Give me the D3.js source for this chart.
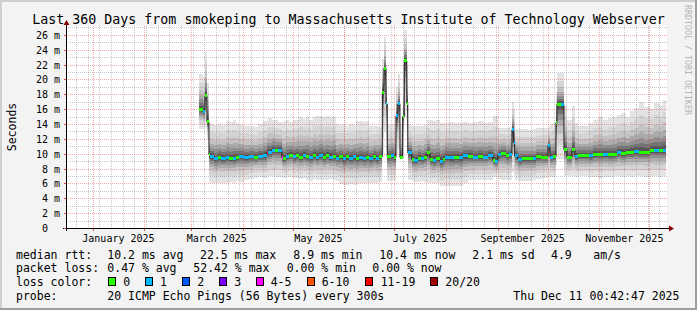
<!DOCTYPE html>
<meta charset="utf-8">
<style>
body { margin: 0; background: #fff; }
svg text { font-family: "DejaVu Sans Mono", monospace; fill: #000; }
</style>
<body>
<script src="https://d3js.org/d3.v7.min.js"></script>
<script>

// ---- data ----
// step start, in days since 2025-01-01
var days = [
  63.8, 66.2, 67.4, 68.6, 69.8, 70.5, 73, 75, 77, 80,
  82, 84, 86, 88, 91, 94, 97, 99, 102, 104.5,
  105.3, 107.5, 109.5, 111, 113.5, 114.3, 116, 118, 120, 122,
  124, 126, 128, 130, 132, 134, 136, 138, 140, 142,
  144, 146, 148, 150, 152, 154, 156, 158, 160, 162,
  164, 166, 168, 170, 172, 173.8, 174.8, 176, 176.8, 179,
  181, 182, 183.1, 184.4, 186, 187, 188.5, 189.1, 191.5, 193,
  195, 197, 199, 200.6, 202.4, 204, 206, 208.4, 210, 211.5,
  214, 217, 220, 222, 225, 228, 231, 234, 237.2, 240.2,
  241.5, 243.2, 245, 248, 250, 251.6, 252.6, 253.2, 255.2, 257.6,
  261, 264, 266, 269, 273.2, 274.4, 276.5, 278, 278.6, 281,
  282.8, 284.6, 287.6, 289.4, 291.2, 295, 298, 300.2, 303, 306,
  309, 312, 314.6, 317, 320, 322.4, 325, 328, 331, 334.4,
  337, 340, 342
];
// median rtt (ms)
var median = [
  16.0, 15.7, 17.8, 14.3, 9.9, 9.6, 9.3, 9.5, 9.4, 9.5,
  9.4, 9.4, 9.5, 9.6, 9.5, 9.6, 9.5, 9.6, 9.7, 10.2,
  10.2, 10.5, 10.4, 10.5, 9.5, 9.3, 9.6, 9.8, 9.6, 9.7,
  9.5, 9.7, 9.6, 9.5, 9.7, 9.5, 9.75, 9.5, 9.7, 9.5,
  9.6, 9.4, 9.6, 9.3, 9.6, 9.4, 9.6, 9.3, 9.5, 9.3,
  9.5, 9.3, 9.6, 9.4, 9.6, 18.3, 21.5, 16.7, 9.6, 9.7,
  9.5, 15.1, 16.7, 9.5, 15.0, 22.5, 16.8, 10.1, 9.2, 9.1,
  9.4, 9.3, 9.5, 10.1, 9.2, 9.1, 9.3, 9.0, 9.2, 9.55,
  9.45, 9.5, 9.45, 9.7, 9.65, 9.55, 9.6, 9.55, 9.75, 9.05,
  8.9, 9.9, 10.0, 9.7, 9.9, 13.2, 11.5, 9.7, 9.2, 9.3,
  9.3, 9.3, 9.6, 9.55, 11.1, 9.55, 9.6, 14.2, 16.65, 16.65,
  10.55, 9.5, 10.55, 9.6, 9.75, 9.75, 9.7, 9.9, 9.85, 9.9,
  9.85, 9.9, 10.1, 10.05, 10.15, 10.2, 10.25, 10.2, 10.2, 10.45,
  10.4, 10.5, 10.45
];
// lost pings out of 20
var loss = [
  0, 1, 0, 0, 0, 1, 1, 0, 1, 1,
  0, 1, 0, 1, 1, 1, 0, 1, 1, 11,
  1, 1, 0, 1, 4, 0, 1, 0, 1, 0,
  0, 1, 0, 1, 0, 1, 1, 0, 0, 1,
  0, 1, 0, 1, 0, 1, 1, 0, 1, 1,
  0, 1, 0, 1, 0, 0, 0, 1, 0, 1,
  0, 1, 1, 0, 0, 0, 0, 1, 0, 1,
  0, 1, 0, 0, 0, 1, 0, 1, 0, 1,
  1, 0, 1, 1, 0, 1, 0, 1, 1, 0,
  1, 1, 0, 0, 1, 1, 1, 1, 1, 0,
  0, 1, 0, 0, 1, 1, 0, 0, 0, 1,
  0, 0, 0, 1, 0, 0, 1, 0, 0, 1,
  0, 0, 1, 0, 0, 0, 1, 0, 0, 0,
  1, 0, 1
];
// smoke: fastest and slowest ping (ms)
var smokeMin = [
  13.3, 13.3, 13.6, 12.0, 6.2, 6.1, 6.0, 6.1, 6.0, 6.1,
  6.2, 6.1, 6.3, 6.2, 6.4, 6.6, 6.8, 6.9, 6.8, 6.9,
  7.0, 7.0, 6.9, 6.9, 6.8, 6.8, 6.9, 6.9, 6.7, 6.8,
  6.6, 6.8, 6.5, 6.3, 6.6, 6.5, 6.5, 6.4, 6.5, 6.6,
  6.4, 6.3, 5.9, 5.8, 5.8, 5.9, 5.8, 5.9, 6.0, 6.1,
  6.0, 6.1, 6.0, 6.1, 6.2, 10.0, 13.0, 10.5, 6.3, 6.3,
  6.4, 9.8, 10.5, 9.4, 10.0, 15.0, 10.5, 6.5, 6.3, 6.2,
  6.2, 6.3, 6.2, 6.1, 6.0, 6.0, 6.1, 5.6, 5.6, 5.7,
  5.6, 5.7, 5.7, 6.0, 6.4, 6.5, 6.5, 6.5, 6.5, 6.9,
  6.9, 6.6, 6.5, 6.5, 6.5, 7.5, 7.0, 6.4, 6.3, 6.3,
  6.3, 6.4, 6.6, 6.8, 6.9, 6.9, 6.9, 8.5, 9.3, 9.3,
  7.0, 7.0, 7.0, 6.9, 7.0, 7.0, 6.9, 6.9, 6.8, 6.9,
  6.9, 7.0, 7.0, 6.9, 7.0, 6.9, 7.0, 7.0, 6.9, 7.0,
  7.0, 6.9, 7.0
];
var smokeMax = [
  20.7, 20.3, 23.9, 19.5, 14.2, 14.0, 13.9, 14.0, 13.9, 14.4,
  14.3, 14.5, 14.2, 13.9, 13.8, 13.7, 13.6, 14.0, 14.4, 14.6,
  14.8, 14.6, 14.5, 14.3, 14.2, 14.4, 14.6, 14.3, 14.5, 14.6,
  14.9, 14.7, 15.0, 14.6, 15.0, 15.1, 15.1, 15.0, 15.1, 14.9,
  15.1, 14.0, 13.9, 14.0, 13.8, 14.0, 13.9, 14.4, 14.4, 14.3,
  14.4, 13.8, 13.7, 13.7, 13.6, 22.7, 25.7, 22.0, 13.9, 14.0,
  13.9, 19.0, 20.7, 14.0, 22.0, 26.6, 22.0, 13.9, 13.7, 13.8,
  13.7, 13.8, 13.9, 14.6, 14.6, 14.4, 14.6, 14.2, 14.2, 14.2,
  14.3, 14.2, 14.1, 14.3, 14.2, 14.3, 14.4, 14.2, 14.3, 15.1,
  15.1, 13.5, 13.5, 13.4, 13.6, 16.9, 16.0, 13.3, 13.3, 13.3,
  13.2, 13.3, 13.4, 13.5, 13.6, 14.0, 14.2, 18.2, 20.9, 20.9,
  16.4, 14.5, 16.4, 14.2, 13.7, 13.8, 14.2, 14.6, 14.9, 14.5,
  14.8, 14.9, 15.2, 15.5, 15.0, 15.7, 16.2, 16.9, 16.3, 16.0,
  16.8, 16.5, 17.3
];

var yTicks = [0, 2, 4, 6, 8, 10, 12, 14, 16, 18, 20, 22, 24, 26];
var labelMonths = ["2025-01", "2025-03", "2025-05", "2025-07", "2025-09", "2025-11"];

var title = "Last 360 Days from smokeping to Massachusetts Institute of Technology Webserver";
var rttStats = ["10.2 ms avg", "22.5 ms max", "8.9 ms min", "10.4 ms now", "2.1 ms sd", "4.9", "am/s"];
var lossStats = ["0.47 % avg", "52.42 % max", "0.00 % min", "0.00 % now"];
var lossNames = ["0", "1", "2", "3", "4-5", "6-10", "11-19", "20/20"];
var lossLimits = [0, 1, 2, 3, 5, 10, 19, 20];
var lossColors = ["#26ff00", "#00b8ff", "#0059ff", "#7e00ff", "#ff00ff", "#ff5500", "#ff0000", "#a10000"];
var probeText = "20 ICMP Echo Pings (56 Bytes) every 300s";
var stamp = "Thu Dec 11 00:42:47 2025";

// ---- layout ----
var W = 697, H = 310;
var plotL = 66, plotR = 666, plotT = 26, plotB = 228;

var endTime = new Date(2025, 11, 11, 0, 42, 47);
var startTime = new Date(endTime.getTime() - 360 * 864e5);
var jan1 = new Date(2025, 0, 1).getTime();
function dayDate(d) { return new Date(jan1 + d * 864e5); }

var x = d3.scaleTime().domain([startTime, endTime]).range([plotL, plotR]);
var y = d3.scaleLinear().domain([0, 27.2]).range([plotB, plotT]);

var rows = days.map(function(d, i) {
  return { t: dayDate(d), med: median[i], loss: loss[i], lo: smokeMin[i], hi: smokeMax[i] };
});
// closing point so the last step reaches "now"
var stepRows = rows.concat([Object.assign({}, rows[rows.length - 1], { t: endTime })]);

var svg = d3.select("body").append("svg")
    .attr("width", W)
    .attr("height", H);

// background + 3d border
svg.append("rect").attr("width", W).attr("height", H).attr("fill", "#f3f3f3");
svg.append("path").attr("d", "M0,1H697M1,0V310").attr("stroke", "#cfcfcf").attr("stroke-width", 2);
svg.append("path").attr("d", "M0,309H697M696,0V310").attr("stroke", "#9e9e9e").attr("stroke-width", 2);

svg.append("rect")
    .attr("x", plotL).attr("y", plotT)
    .attr("width", plotR - plotL + 1).attr("height", plotB - plotT)
    .attr("fill", "#fff");

// smoke, drawn as nested layers from the slowest/fastest pings in to the median
var shades = [
  [0, "#e3e3e3"], [0.25, "#d4d4d4"], [0.45, "#c3c3c3"], [0.6, "#ababab"],
  [0.72, "#919191"], [0.82, "#747474"], [0.9, "#575757"]
];
var smoke = svg.append("g").attr("shape-rendering", "crispEdges");
shades.forEach(function(s) {
  var f = s[0];
  var area = d3.area()
      .curve(d3.curveStepAfter)
      .x(function(d) { return x(d.t); })
      .y0(function(d) { return y(d.lo + (d.med - d.lo) * f); })
      .y1(function(d) { return y(d.hi - (d.hi - d.med) * f); });
  smoke.append("path")
      .datum(stepRows)
      .attr("fill", s[1])
      .attr("d", area);
});

// grid
var grid = svg.append("g").attr("stroke-dasharray", "1,1").attr("fill", "none");
d3.range(1, 28).forEach(function(v) {
  var yy = Math.round(y(v)) + 0.5;
  if (yy < plotT) return;
  grid.append("line")
      .attr("x1", plotL).attr("x2", plotR + 1)
      .attr("y1", yy).attr("y2", yy)
      .attr("stroke", v % 2 ? "rgba(120,120,120,0.4)" : "rgba(235,60,60,0.45)");
});
var months = d3.timeMonth.range(startTime, endTime);
var weeks = d3.timeSunday.range(startTime, endTime);
weeks.forEach(function(d) {
  var xx = Math.round(x(d)) + 0.5;
  grid.append("line")
      .attr("x1", xx).attr("x2", xx).attr("y1", plotT).attr("y2", plotB)
      .attr("stroke", "rgba(120,120,120,0.4)");
});
months.forEach(function(d) {
  var xx = Math.round(x(d)) + 0.5;
  grid.append("line")
      .attr("x1", xx).attr("x2", xx).attr("y1", plotT).attr("y2", plotB)
      .attr("stroke", "rgba(235,60,60,0.45)");
});

// median line
var medLine = d3.line()
    .curve(d3.curveStepAfter)
    .x(function(d) { return x(d.t); })
    .y(function(d) { return y(d.med); });
svg.append("path")
    .datum(stepRows)
    .attr("fill", "none")
    .attr("stroke", "#202020")
    .attr("stroke-width", 1)
    .attr("d", medLine);

// loss coloured median marks
function lossColor(l) {
  for (var k = 0; k < lossLimits.length; k++) if (l <= lossLimits[k]) return lossColors[k];
  return lossColors[lossColors.length - 1];
}
svg.append("g").attr("shape-rendering", "crispEdges")
  .selectAll("rect")
  .data(rows)
  .join("rect")
    .attr("x", function(d) { return x(d.t); })
    .attr("width", function(d, i) { return x(stepRows[i + 1].t) - x(d.t); })
    .attr("y", function(d) { return y(d.med) - 1.5; })
    .attr("height", 3)
    .attr("fill", function(d) { return lossColor(d.loss); });

// axes
var ax = svg.append("g").attr("shape-rendering", "crispEdges");
ax.append("line").attr("x1", plotL - 3).attr("x2", plotR + 4).attr("y1", plotB + 0.5).attr("y2", plotB + 0.5).attr("stroke", "#000");
ax.append("line").attr("x1", plotL + 0.5).attr("x2", plotL + 0.5).attr("y1", plotB + 3).attr("y2", plotT - 3).attr("stroke", "#000");
months.forEach(function(d) {
  var xx = Math.round(x(d)) + 0.5;
  ax.append("line").attr("x1", xx).attr("x2", xx).attr("y1", plotB + 1).attr("y2", plotB + 3).attr("stroke", "#e05050");
});
yTicks.forEach(function(v) {
  var yy = Math.round(y(v)) + 0.5;
  ax.append("line").attr("x1", plotL - 2).attr("x2", plotL).attr("y1", yy).attr("y2", yy).attr("stroke", "#e05050");
});
svg.append("path").attr("d", "M" + (plotL - 2.5) + "," + (plotT - 1) + "L" + (plotL + 0.5) + "," + (plotT - 6) + "L" + (plotL + 3.5) + "," + (plotT - 1) + "Z").attr("fill", "#8b0000");
svg.append("path").attr("d", "M" + (plotR + 3) + "," + (plotB - 2.5) + "L" + (plotR + 8) + "," + (plotB + 0.5) + "L" + (plotR + 3) + "," + (plotB + 3.5) + "Z").attr("fill", "#8b0000");

// y labels
var yl = svg.append("g").attr("font-size", "10px");
yTicks.forEach(function(v) {
  var yy = Math.round(y(v)) + 0.5;
  yl.append("text").attr("x", 48).attr("y", yy + 3.5).attr("text-anchor", "end").text(v);
  if (v > 0) yl.append("text").attr("x", 54).attr("y", yy + 3.5).text("m");
});

// x labels, centred on the month
var xl = svg.append("g").attr("font-size", "10px");
labelMonths.forEach(function(m) {
  var a = d3.timeParse("%Y-%m")(m);
  var b = d3.timeMonth.offset(a, 1);
  xl.append("text")
      .attr("x", (x(a) + x(b)) / 2)
      .attr("y", 241.5)
      .attr("text-anchor", "middle")
      .text(d3.timeFormat("%B %Y")(a));
});

// title, axis name, watermark
svg.append("text").attr("x", 348.5).attr("y", 23.5).attr("text-anchor", "middle")
    .attr("font-size", "13.3px").text(title);
svg.append("text").attr("transform", "translate(15.5,127) rotate(-90)").attr("text-anchor", "middle")
    .attr("font-size", "11.5px").text("Seconds");
svg.append("text").attr("transform", "translate(685,5) rotate(90)")
    .attr("font-size", "8.3px").style("fill", "#b4b4b4").text("RRDTOOL / TOBI OETIKER");

// legend
var lg = svg.append("g").attr("font-size", "11.5px");
var rowY = [258.5, 272, 285.8, 299.5];
lg.append("text").attr("x", 16).attr("y", rowY[0]).text("median rtt:");
[107.3, 200, 293.3, 379.3, 472.3, 551, 593.3].forEach(function(px, i) {
  lg.append("text").attr("x", px).attr("y", rowY[0]).text(rttStats[i]);
});
lg.append("text").attr("x", 16).attr("y", rowY[1]).text("packet loss:");
[107.3, 193.3, 286.7, 372.3].forEach(function(px, i) {
  lg.append("text").attr("x", px).attr("y", rowY[1]).text(lossStats[i]);
});
lg.append("text").attr("x", 16).attr("y", rowY[2]).text("loss color:");
var boxX = [108.5, 145.5, 182.5, 219.5, 256.5, 307.5, 365.5, 430.5];
var nameX = [123.3, 160, 197.3, 234.3, 270.7, 321.7, 380.7, 445.3];
lossNames.forEach(function(n, i) {
  lg.append("rect").attr("x", boxX[i]).attr("y", 277.5).attr("width", 7).attr("height", 8)
      .attr("fill", lossColors[i]).attr("stroke", "#000").attr("stroke-width", 1);
  lg.append("text").attr("x", nameX[i]).attr("y", rowY[2]).text(n);
});
lg.append("text").attr("x", 16).attr("y", rowY[3]).text("probe:");
lg.append("text").attr("x", 107.3).attr("y", rowY[3]).text(probeText);
lg.append("text").attr("x", 513.3).attr("y", rowY[3]).text(stamp);

</script>
</body>
